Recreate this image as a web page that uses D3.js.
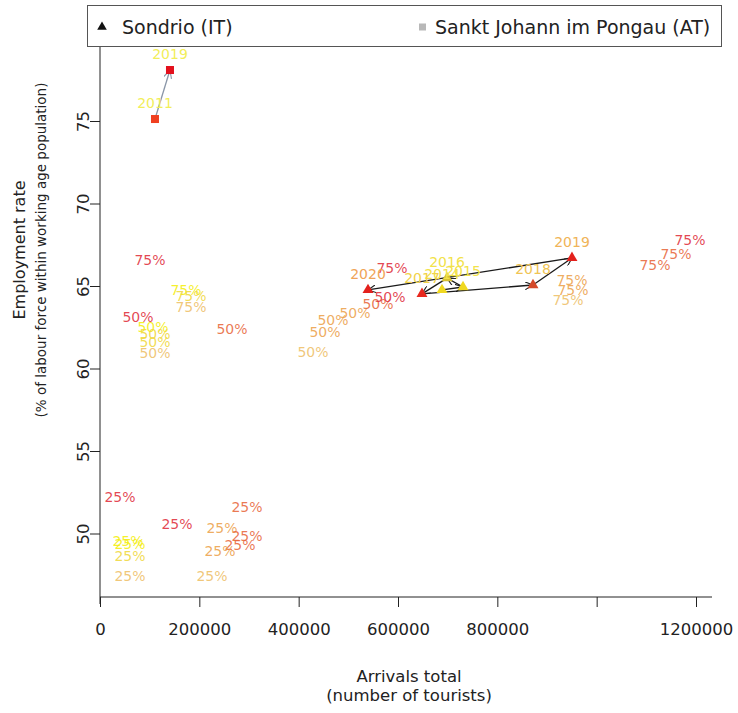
<!DOCTYPE html>
<html><head><meta charset="utf-8">
<script src="https://cdn.jsdelivr.net/npm/d3@7"></script>
<style>body{margin:0;background:#fff}svg{display:block}text{font-family:"DejaVu Sans",sans-serif}</style>
</head><body>
<script>
// ---- data ----
const sondrioYears = [2014, 2015, 2016, 2017, 2018, 2019, 2020];
const sondrioArrivals = [688600, 730900, 698700, 648300, 871800, 950300, 539600];
const sondrioEmployment = [64.76, 64.94, 65.48, 64.52, 65.06, 66.70, 64.76];
const sondrioColors = ["#f0d820", "#f0d820", "#d8c030", "#e8281e", "#d44a2a", "#e3201c", "#e3201c"];
const sondrioLabelColors = ["#f2e24a", "#f2e24a", "#f2e24a", "#f2d24a", "#f0c454", "#f0b458", "#f0a458"];

const sanktYears = [2011, 2019];
const sanktArrivals = [110700, 140900];
const sanktEmployment = [75.12, 78.09];
const sanktColors = ["#f04020", "#e3101c"];
const sanktLabelColors = ["#f2ee5a", "#f2ee5a"];

const pctText = ["75%","75%","75%","75%","75%","75%","75%","75%","75%","75%","75%",
  "50%","50%","50%","50%","50%","50%","50%","50%","50%","50%","50%","50%",
  "25%","25%","25%","25%","25%","25%","25%","25%","25%","25%","25%","25%"];
const pctArrivals = [100700,173200,183200,183200,587900,950300,952300,942200,1187900,1159700,1117400,
  76500,106700,110700,110700,110700,265800,428900,453000,469100,513400,559700,583900,
  40300,155000,296000,245600,296000,281900,241600,56400,60400,60400,60400,225500];
const pctEmployment = [66.58,64.76,64.39,63.73,66.09,65.36,64.76,64.15,67.79,66.94,66.27,
  63.12,62.52,62.09,61.61,60.94,62.39,61.00,62.21,62.94,63.36,63.91,64.33,
  52.21,50.58,51.61,50.33,49.85,49.30,48.94,49.55,49.36,48.64,47.42,47.42];
const pctShade = [5,0,1,2,5,3,3,2,5,4,4,
  5,0,1,1,2,4,2,3,3,3,4,5,
  5,5,4,3,4,4,3,0,0,1,2,2];
const shadeColors = ["#f4ee10", "#f0d840", "#eec068", "#eca24c", "#e8683c", "#e0303c"];

const xTicks = [0, 200000, 400000, 600000, 800000, 1000000, 1200000];
const xTickLabels = ["0", "200000", "400000", "600000", "800000", "", "1200000"];
const yTicks = [50, 55, 60, 65, 70, 75];

const legendNames = ["Sondrio (IT)", "Sankt Johann im Pongau (AT)"];

// ---- chart ----
const W = 738, H = 713;
const svg = d3.select("body").append("svg").attr("width", W).attr("height", H);
const x = d3.scaleLinear().domain([0, 1200000]).range([100, 696]);
const y = d3.scaleLinear().domain([50, 75]).range([533.5, 121]);

svg.append("defs").selectAll("marker").data([["ah","#222"],["ahg","#8a96a8"]]).join("marker")
  .attr("id", d => d[0]).attr("viewBox", "0 0 10 10").attr("refX", 10).attr("refY", 5)
  .attr("markerWidth", 8).attr("markerHeight", 8).attr("markerUnits", "userSpaceOnUse")
  .attr("orient", "auto")
  .append("path").attr("d", "M0,0 L10,5 L0,10").attr("fill", "none").attr("stroke", d => d[1]).attr("stroke-width", 1.4);

// axes
const xAxis = d3.axisBottom(x).tickValues(xTicks).tickFormat((d, i) => xTickLabels[i]).tickSize(10).tickPadding(16);
const gx = svg.append("g").attr("transform", "translate(0,597)").call(xAxis);
gx.select(".domain").remove();
gx.append("line").attr("x1", 100).attr("x2", 712).attr("y1", 0).attr("y2", 0).attr("stroke", "#222");
gx.selectAll(".tick line").attr("stroke", "#222");
gx.selectAll("text").attr("font-size", 16.5).attr("fill", "#222").attr("font-family", "DejaVu Sans");

const yAxis = d3.axisLeft(y).tickValues(yTicks).tickSize(10);
const gy = svg.append("g").attr("transform", "translate(100,0)").call(yAxis);
gy.select(".domain").remove();
gy.append("line").attr("x1", 0).attr("x2", 0).attr("y1", 42).attr("y2", 604).attr("stroke", "#222");
gy.selectAll(".tick line").attr("stroke", "#222");
gy.selectAll(".tick text").attr("font-size", 16.5).attr("fill", "#222").attr("font-family", "DejaVu Sans")
  .attr("text-anchor", "middle").attr("x", 0).attr("y", 0).attr("dy", "0.35em")
  .attr("transform", "translate(-17,0) rotate(-90)");

// axis titles
svg.append("text").attr("x", 409).attr("y", 682).attr("text-anchor", "middle").attr("font-size", 16.5).attr("fill", "#222").text("Arrivals total");
svg.append("text").attr("x", 409).attr("y", 701).attr("text-anchor", "middle").attr("font-size", 16.5).attr("fill", "#222").text("(number of tourists)");
svg.append("text").attr("transform", "translate(25,250) rotate(-90)").attr("text-anchor", "middle").attr("font-size", 16).attr("fill", "#222").text("Employment rate");
svg.append("text").attr("transform", "translate(46,250) rotate(-90)").attr("text-anchor", "middle").attr("font-size", 13.5).attr("fill", "#222").text("(% of labour force within working age population)");

// percentage labels
const pct = pctText.map((t, i) => ({t, a: pctArrivals[i], e: pctEmployment[i], s: pctShade[i]}));
svg.append("g").selectAll("text").data(pct).join("text")
  .attr("x", d => x(d.a)).attr("y", d => y(d.e)).attr("dy", "0.35em")
  .attr("text-anchor", "middle").attr("font-size", 14).attr("fill", d => shadeColors[d.s]).attr("fill-opacity", 0.88)
  .text(d => d.t);

const sond = sondrioYears.map((yr, i) => ({yr, a: sondrioArrivals[i], e: sondrioEmployment[i], c: sondrioColors[i], lc: sondrioLabelColors[i]}));
const sank = sanktYears.map((yr, i) => ({yr, a: sanktArrivals[i], e: sanktEmployment[i], c: sanktColors[i], lc: sanktLabelColors[i]}));

// trajectories
svg.append("g").selectAll("line").data(d3.pairs(sond)).join("line")
  .attr("x1", d => x(d[0].a)).attr("y1", d => y(d[0].e)).attr("x2", d => x(d[1].a)).attr("y2", d => y(d[1].e))
  .attr("stroke", "#1a1a1a").attr("stroke-width", 1.3).attr("marker-end", "url(#ah)");
svg.append("g").selectAll("line").data(d3.pairs(sank)).join("line")
  .attr("x1", d => x(d[0].a)).attr("y1", d => y(d[0].e)).attr("x2", d => x(d[1].a)).attr("y2", d => y(d[1].e))
  .attr("stroke", "#8a96a8").attr("stroke-width", 1.3).attr("marker-end", "url(#ahg)");

// points
const tri = d3.symbol().type(d3.symbolTriangle).size(52);
svg.append("g").selectAll("path").data(sond).join("path")
  .attr("transform", d => `translate(${x(d.a)},${y(d.e)})`).attr("d", tri).attr("fill", d => d.c);
svg.append("g").selectAll("rect").data(sank).join("rect")
  .attr("x", d => x(d.a) - 4).attr("y", d => y(d.e) - 4).attr("width", 8).attr("height", 8).attr("fill", d => d.c);

// year labels
svg.append("g").selectAll("text").data(sond.concat(sank)).join("text")
  .attr("x", d => x(d.a)).attr("y", d => y(d.e) - 16).attr("dy", "0.35em")
  .attr("text-anchor", "middle").attr("font-size", 14).attr("fill", d => d.lc).text(d => d.yr);

// legend
const lg = svg.append("g");
lg.append("rect").attr("x", 87.5).attr("y", 5.5).attr("width", 634).attr("height", 41).attr("fill", "#fff").attr("stroke", "#555");
lg.append("path").attr("transform", "translate(102,27)").attr("d", d3.symbol().type(d3.symbolTriangle).size(40)).attr("fill", "#111");
lg.append("rect").attr("x", 419).attr("y", 23.5).attr("width", 7).attr("height", 7).attr("fill", "#b8b8b8");
lg.append("text").attr("x", 122).attr("y", 27).attr("dy", "0.35em").attr("font-size", 19).attr("fill", "#222").text(legendNames[0]);
lg.append("text").attr("x", 435).attr("y", 27).attr("dy", "0.35em").attr("font-size", 19).attr("fill", "#222").text(legendNames[1]);
</script>
</body></html>
